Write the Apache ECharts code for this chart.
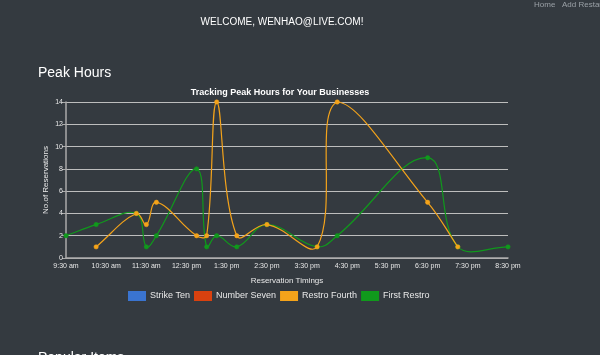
<!DOCTYPE html>
<html>
<head>
<meta charset="utf-8">
<script src="https://cdn.jsdelivr.net/npm/echarts@6/dist/echarts.min.js"></script>
<style>
html,body{margin:0;padding:0;background:#343a40;}
#c{width:600px;height:355px;}
</style>
</head>
<body>
<div id="c"></div>
<script>
// Tick labels along the time axis (hourly, starting 9:30 am)
const tickLabels = ['9:30 am','10:30 am','11:30 am','12:30 pm','1:30 pm','2:30 pm','3:30 pm','4:30 pm','5:30 pm','6:30 pm','7:30 pm','8:30 pm'];
const seriesNames = ['Strike Ten','Number Seven','Restro Fourth','First Restro'];
const seriesColors = ['#3a74d0','#d9410f','#f4a31a','#10991c'];

const strikeTenTimes = [];
const strikeTenValues = [];
const numberSevenTimes = [];
const numberSevenValues = [];
const restroFourthTimes = ['10:15 am','11:15 am','11:30 am','11:45 am','12:45 pm','1:00 pm','1:15 pm','1:45 pm','2:30 pm','3:45 pm','4:15 pm','6:30 pm','7:15 pm'];
const restroFourthValues = [1,4,3,5,2,2,14,2,3,1,14,5,1];
const firstRestroTimes = ['9:30 am','10:15 am','11:15 am','11:30 am','11:45 am','12:45 pm','1:00 pm','1:15 pm','1:45 pm','2:30 pm','3:45 pm','4:15 pm','6:30 pm','7:15 pm','8:30 pm'];
const firstRestroValues = [2,3,4,1,2,8,1,2,1,3,1,2,9,1,1];

// minutes after 9:30 am
function toOffset(t){
  const m = t.match(/(\d+):(\d+)\s*(am|pm)/);
  let h = parseInt(m[1],10) % 12;
  if (m[3] === 'pm') h += 12;
  return h*60 + parseInt(m[2],10) - 570;
}
function pairs(times, vals){ return times.map((t,i)=>[toOffset(t), vals[i]]); }

const TENSION = 0.4;
// Tension spline through the points (pixel coords from the axes), control points capped to the plot area
function splineRenderer(data, color){
  return function(params, api){
    if (params.dataIndex !== 0) return null;
    const pts = data.map(d => api.coord(d));
    const cs = params.coordSys;
    const L = cs.x, R = cs.x + cs.width, T = cs.y, B = cs.y + cs.height;
    const cap = (v, lo, hi) => Math.max(lo, Math.min(hi, v));
    const cps = pts.map((cur, i) => {
      const prev = i > 0 ? pts[i-1] : cur;
      const next = i < pts.length-1 ? pts[i+1] : cur;
      const d01 = Math.hypot(cur[0]-prev[0], cur[1]-prev[1]);
      const d12 = Math.hypot(next[0]-cur[0], next[1]-cur[1]);
      let s01 = d01/(d01+d12), s12 = d12/(d01+d12);
      if (isNaN(s01)) s01 = 0; if (isNaN(s12)) s12 = 0;
      const fa = TENSION*s01, fb = TENSION*s12;
      return {
        p: [cap(cur[0]-fa*(next[0]-prev[0]),L,R), cap(cur[1]-fa*(next[1]-prev[1]),T,B)],
        n: [cap(cur[0]+fb*(next[0]-prev[0]),L,R), cap(cur[1]+fb*(next[1]-prev[1]),T,B)]
      };
    });
    const children = [];
    for (let i = 0; i < pts.length-1; i++){
      children.push({
        type:'bezierCurve',
        shape:{ x1:pts[i][0], y1:pts[i][1], cpx1:cps[i].n[0], cpy1:cps[i].n[1], cpx2:cps[i+1].p[0], cpy2:cps[i+1].p[1], x2:pts[i+1][0], y2:pts[i+1][1] },
        style:{ stroke: color, lineWidth: 1.2, fill: null }
      });
    }
    pts.forEach(p => children.push({ type:'circle', shape:{ cx:p[0], cy:p[1], r:2.2 }, style:{ fill: color, stroke: color, lineWidth: 0.5 } }));
    return { type:'group', children };
  };
}

const font = '"Liberation Sans", Arial, Helvetica, sans-serif';
const fourthData = pairs(restroFourthTimes, restroFourthValues);
const firstData = pairs(firstRestroTimes, firstRestroValues);
const chart = echarts.init(document.getElementById('c'));
chart.setOption({
  backgroundColor: '#343a40',
  animation: false,
  textStyle: { fontFamily: font },
  graphic: [
    { type:'text', left: 534, top: 1, style:{ text:'Home   Add Restaurant', fill:'#9aa0a6', font:'8px '+font } },
    { type:'text', x: 282, y: 22, style:{ text:'WELCOME, WENHAO@LIVE.COM!', fill:'#ffffff', font:'10px '+font, textAlign:'center', textVerticalAlign:'middle' } },
    { type:'text', x: 38, y: 73, style:{ text:'Peak Hours', fill:'#ffffff', font:'14px '+font, textAlign:'left', textVerticalAlign:'middle' } },
    { type:'text', x: 280, y: 93, style:{ text:'Tracking Peak Hours for Your Businesses', fill:'#ffffff', font:'bold 9px '+font, textAlign:'center', textVerticalAlign:'middle' } },
    { type:'text', x: 38, y: 358, style:{ text:'Popular Items', fill:'#ffffff', font:'14px '+font, textAlign:'left', textVerticalAlign:'middle' } }
  ],
  legend: {
    data: seriesNames,
    left: 123,
    top: 286,
    icon: 'rect',
    itemWidth: 18,
    itemHeight: 10,
    itemGap: 4,
    textStyle: { color:'#e8e8e8', fontSize: 9, fontFamily: font, padding: [0,0,0,-1] },
    selectedMode: false
  },
  grid: { left: 66, right: 92, top: 102, bottom: 97 },
  xAxis: {
    type: 'value', min: 0, max: 660, interval: 60,
    name: 'Reservation Timings', nameLocation: 'middle', nameGap: 19,
    nameTextStyle: { color:'#e8e8e8', fontSize: 8 },
    axisLine: { show: true, lineStyle: { color:'#aaaaaa', width: 1.5 } },
    axisTick: { show: false },
    splitLine: { show: false },
    axisLabel: { color:'#e8e8e8', fontSize: 7, margin: 5, formatter: (v)=> tickLabels[Math.round(v/60)] || '' }
  },
  yAxis: {
    type: 'value', min: 0, max: 14, interval: 2,
    name: 'No.of Reservations', nameLocation: 'middle', nameGap: 16, nameRotate: 90, nameMoveOverlap: false,
    nameTextStyle: { color:'#e8e8e8', fontSize: 8 },
    axisLine: { show: true, lineStyle: { color:'#aaaaaa', width: 1.5 } },
    axisTick: { show: true, length: 4, lineStyle: { color:'#aaaaaa' } },
    splitLine: { show: true, lineStyle: { color:'#bdbdbd', width: 1 } },
    axisLabel: { color:'#e8e8e8', fontSize: 7, margin: 3 }
  },
  series: [
    { name: seriesNames[0], type:'line', data: pairs(strikeTenTimes, strikeTenValues), itemStyle:{ color: seriesColors[0] } },
    { name: seriesNames[1], type:'line', data: pairs(numberSevenTimes, numberSevenValues), itemStyle:{ color: seriesColors[1] } },
    { name: seriesNames[3], type:'custom', z: 2, data: firstData, encode:{ x:0, y:1 }, itemStyle:{ color: seriesColors[3] },
      renderItem: splineRenderer(firstData, seriesColors[3]) },
    { name: seriesNames[2], type:'custom', z: 3, data: fourthData, encode:{ x:0, y:1 }, itemStyle:{ color: seriesColors[2] },
      renderItem: splineRenderer(fourthData, seriesColors[2]) }
  ]
});
</script>
</body>
</html>
